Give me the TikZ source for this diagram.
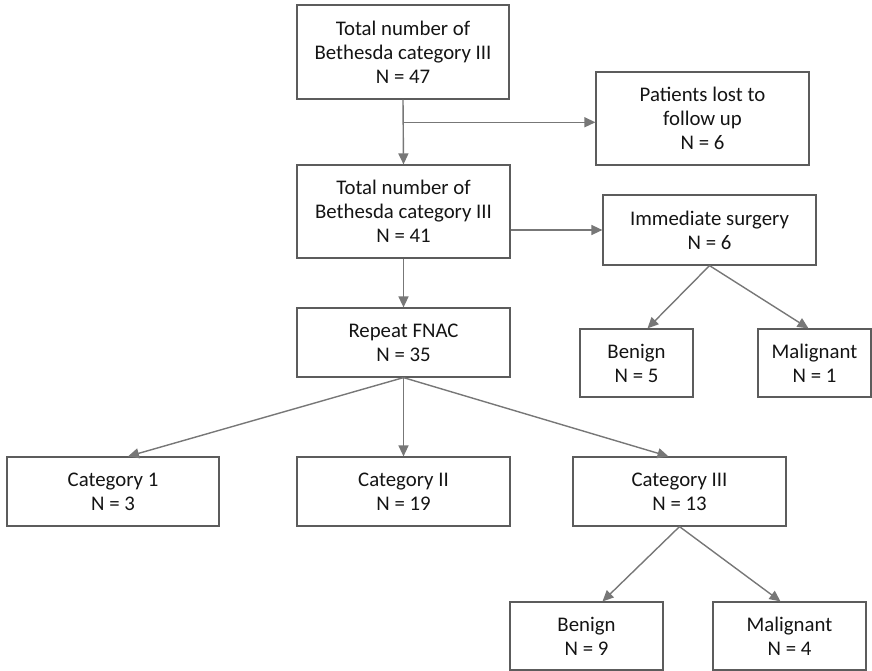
\documentclass[tikz,border=0pt]{standalone}
\usepackage{fontspec}
\setmainfont{Carlito}
\usetikzlibrary{arrows.meta,calc}
\definecolor{boxline}{HTML}{5C5C5C}
\definecolor{arrowline}{HTML}{777777}
\definecolor{boxtext}{HTML}{141414}
\tikzset{
  box/.style={draw=boxline,line width=1.2pt,align=center,text=boxtext,
    inner sep=0pt,font=\fontsize{20.8}{24}\selectfont},
  arr/.style={draw=arrowline,line width=1.4pt,
    -{Triangle[length=11pt,width=10pt]}}
}
\begin{document}
\begin{tikzpicture}[x=1pt,y=-1pt]
    \useasboundingbox (0,0) rectangle (872,671);

    % First level
    \node[box,minimum width=212pt,minimum height=94pt] (total47) at (403,52)
      {Total number of\\Bethesda category III\\N = 47};
    \node[box,minimum width=213pt,minimum height=93pt] (lost) at (702.5,118.5)
      {Patients lost to\\follow up\\N = 6};

    % Second level
    \node[box,minimum width=213pt,minimum height=93pt] (total41) at (403.5,211.5)
      {Total number of\\Bethesda category III\\N = 41};
    \node[box,minimum width=213pt,minimum height=70pt] (surgery) at (709.5,230)
      {Immediate surgery\\N = 6};

    % Surgery outcomes
    \node[box,minimum width=113pt,minimum height=68pt] (benignA) at (636.5,363)
      {Benign\\N = 5};
    \node[box,minimum width=113pt,minimum height=68pt] (malignantA) at (814.5,363)
      {Malignant\\N = 1};

    % Repeat FNAC and its categories
    \node[box,minimum width=213pt,minimum height=69pt] (fnac) at (403.5,342.5)
      {Repeat FNAC\\N = 35};
    \node[box,minimum width=212pt,minimum height=69pt] (cat1) at (113,491.5)
      {Category 1\\N = 3};
    \node[box,minimum width=213pt,minimum height=69pt] (cat2) at (403.5,491.5)
      {Category II\\N = 19};
    \node[box,minimum width=213pt,minimum height=69pt] (cat3) at (679.5,491.5)
      {Category III\\N = 13};

    % Category III outcomes
    \node[box,minimum width=153pt,minimum height=68pt] (benignB) at (586.5,636)
      {Benign\\N = 9};
    \node[box,minimum width=153pt,minimum height=68pt] (malignantB) at (789.5,636)
      {Malignant\\N = 4};

    % Arrows
    \coordinate (split) at ($(total47.south)!0.35!(total41.north)$);
    \draw[arr] (total47.south) -- (total41.north);
    \draw[arr] (split) -- (split -| lost.west);
    \draw[arr] (total41.east |- surgery.west) -- (surgery.west);
    \draw[arr] (surgery.south) -- ([xshift=11pt]benignA.north);
    \draw[arr] (surgery.south) -- ([xshift=-6pt]malignantA.north);
    \draw[arr] (total41.south) -- (fnac.north);
    \draw[arr] (fnac.south) -- ([xshift=15pt]cat1.north);
    \draw[arr] (fnac.south) -- (cat2.north);
    \draw[arr] (fnac.south) -- ([xshift=-11pt]cat3.north);
    \draw[arr] (cat3.south) -- ([xshift=16pt]benignB.north);
    \draw[arr] (cat3.south) -- ([xshift=-9pt]malignantB.north);
  \end{tikzpicture}
\end{document}
